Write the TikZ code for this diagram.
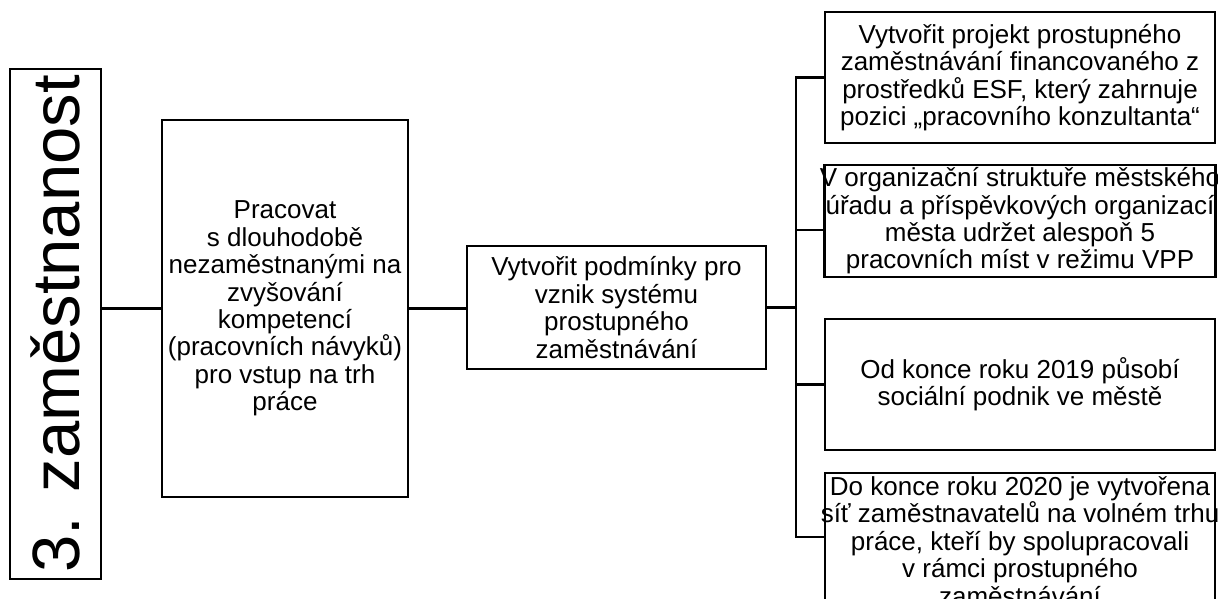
\documentclass[tikz,border=0pt]{standalone}
\usepackage{fontspec}
\setmainfont{Liberation Sans}

\begin{document}
\begin{tikzpicture}[x=1pt,y=-1pt,
 box/.style={draw,line width=2.8pt,align=center,inner xsep=0pt,inner ysep=0pt,font=\fontsize{26}{27.4}\selectfont},
 goal/.style={box,minimum width=390pt,inner xsep=-5pt},
 conn/.style={line width=2.8pt}]
 \useasboundingbox (0,0) rectangle (1218,598);
 \clip (0,0) rectangle (1218,598);
 \node[box,rotate=90,minimum width=510pt,minimum height=91pt,font=\fontsize{67}{71}\selectfont] (area) at (55.5,324) {3. zaměstnanost};
 \node[box,minimum width=246pt,minimum height=377pt] (aim) at (285,308.5) {Pracovat\\ s~dlouhodobě\\ nezaměstnanými na\\ zvyšování\\ kompetencí\\ (pracovních návyků)\\ pro vstup na trh\\ práce};
 \node[box,minimum width=299pt,minimum height=123pt] (cond) at (616.5,307.5) {Vytvořit podmínky pro\\ vznik systému\\ prostupného\\ zaměstnávání};
 \node[goal,minimum height=131pt] (esf) at (1020,77.5) {Vytvořit projekt prostupného\\ zaměstnávání financovaného z\\ prostředků ESF, který zahrnuje\\ pozici „pracovního konzultanta“};
 \node[goal,minimum height=112pt] (vpp) at (1020,221) {V organizační struktuře městského\\ úřadu a příspěvkových organizací\\ města udržet alespoň 5\\ pracovních míst v~režimu VPP};
 \node[goal,minimum height=131pt] (soc) at (1020,384.5) {Od konce roku 2019 působí\\ sociální podnik ve městě};
 % text runs past the lower edge of this box
 \node[goal,minimum height=128pt] (net) at (1020,537) {};
 \node[goal,draw=none,minimum height=0pt,anchor=north] (nettext) at ([yshift=-3.5pt]net.north) {Do konce roku 2020 je vytvořena\\ síť zaměstnavatelů na volném trhu\\ práce, kteří by spolupracovali\\ v~rámci prostupného\\ zaměstnávání};
 \coordinate (trunk) at (796,307);
 \coordinate (vppin) at ([yshift=-9pt]vpp.west);
 \draw[conn] (area.south |- aim.west) -- (aim.west);
 \draw[conn] (aim.east) -- (aim.east -| cond.west);
 \draw[conn] (cond.east) -- (cond.east -| trunk);
 \draw[conn] (esf.west) -| (trunk) |- (net.west);
 \draw[conn] (vppin) -- (trunk |- vppin);
 \draw[conn] (soc.west) -- (trunk |- soc.west);
\end{tikzpicture}
\end{document}
